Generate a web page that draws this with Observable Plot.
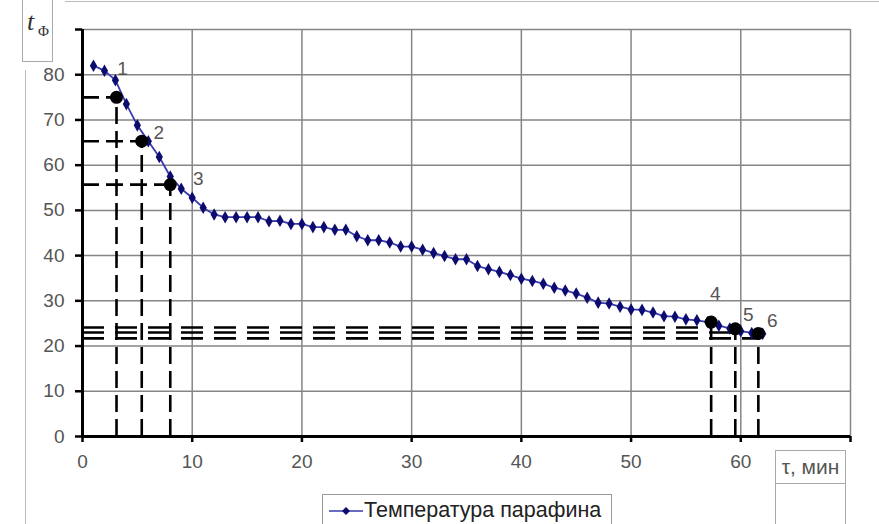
<!DOCTYPE html>
<html>
<head>
<meta charset="utf-8">
<script src="https://cdn.jsdelivr.net/npm/d3@7"></script>
<script src="https://cdn.jsdelivr.net/npm/@observablehq/plot@0.6"></script>
<style>
  html, body { margin: 0; padding: 0; background: #fff; }
  #wrap { position: relative; width: 879px; height: 524px; overflow: hidden; font-family: "Liberation Sans", Arial, sans-serif; }
  #chart { position: absolute; left: 0; top: 0; }
  .ov { position: absolute; box-sizing: border-box; }
</style>
</head>
<body>
<div id="wrap">
  <div id="chart"></div>
  <div class="ov" style="left:65px;top:1px;width:814px;height:0;border-top:1px solid #bbb;"></div>
  <div class="ov" style="left:25px;top:70px;width:0;height:460px;border-left:1px solid #bbb;"></div>
  <div class="ov" id="ylab" style="left:22px;top:-1px;width:31px;height:63px;border:1px solid #aaa;border-top:none;">
    <span style="position:absolute;left:4px;top:8px;font-family:'Liberation Serif',serif;font-style:italic;font-size:26px;color:#333;">t</span>
    <span style="position:absolute;left:15px;top:24px;font-family:'Liberation Serif',serif;font-size:15px;color:#333;">Φ</span>
  </div>
  <div class="ov" id="xlab" style="left:775px;top:450px;width:71px;height:34px;border:1px solid #aaa;font-size:21px;color:#555;line-height:32px;text-align:center;white-space:nowrap;">τ, мин</div>
  <div class="ov" style="left:775px;top:484px;width:71px;height:50px;border-left:1px solid #aaa;border-right:1px solid #aaa;"></div>
  <div class="ov" id="legend" style="left:322px;top:494px;width:290px;height:40px;border:1px solid #999;font-size:21.5px;color:#222;white-space:nowrap;">
    <svg width="40" height="20" style="position:absolute;left:4px;top:6px;">
      <line x1="2" y1="10" x2="36" y2="10" stroke="#3a3ab0" stroke-width="1.6"></line>
      <path d="M19,6 L23,10 L19,14 L15,10 Z" fill="#0c0c70"></path>
    </svg>
    <span style="position:absolute;left:41px;top:3px;">Температура парафина</span>
  </div>
</div>
<script>
// Time, min
const times = [1,2,3,4,5,6,7,8,9,10,11,12,13,14,15,16,17,18,19,20,21,22,23,24,25,26,27,28,29,30,31,32,33,34,35,36,37,38,39,40,41,42,43,44,45,46,47,48,49,50,51,52,53,54,55,56,57,58,59,60,61,62];
// Paraffin temperature
const temps = [82.0,80.9,78.8,73.5,68.8,65.3,61.8,57.5,54.8,52.8,50.6,49.1,48.5,48.5,48.5,48.5,47.6,47.7,47.0,47.0,46.3,46.3,45.7,45.7,44.3,43.4,43.4,42.9,42.0,42.0,41.3,40.6,39.9,39.2,39.2,37.7,37.0,36.4,35.7,34.9,34.4,33.8,32.9,32.3,31.6,30.7,29.6,29.4,28.7,28.1,28.0,27.4,26.6,26.5,25.9,25.7,25.3,24.5,23.9,23.3,22.9,22.7];

// Highlighted points
const hlLabels = ["1","2","3","4","5","6"];
const hlTimes = [3.1, 5.4, 8.0, 57.3, 59.5, 61.6];
const hlTemps = [75.0, 65.3, 55.7, 25.3, 23.8, 22.8];
// Horizontal guide levels (as drawn)
const guideTemps = [75.0, 65.3, 55.7, 24.1, 23.0, 21.7];

const xTicks = [0,10,20,30,40,50,60,70];
const yTicks = [0,10,20,30,40,50,60,70,80,90];
const xGrid = [10,20,30,40,50,60,70];
const yGrid = [10,20,30,40,50,60,70,80,90];

const series = times.map((t, i) => ({t, T: temps[i]}));
const hl = hlLabels.map((label, i) => ({label, t: hlTimes[i], T: hlTemps[i], g: guideTemps[i]}));

const labelOffsets = [[6,-28],[17,-8],[28,-6],[4,-28],[13,-14],[14,-12]];

const labelMarks = hl.map((d, i) => Plot.text([d], {
  x: "t", y: "T", text: "label",
  dx: labelOffsets[i][0], dy: labelOffsets[i][1],
  fontSize: 19, fill: "#555", fontFamily: "Liberation Sans"
}));

const chart = Plot.plot({
  width: 879,
  height: 490,
  marginLeft: 82,
  marginRight: 29,
  marginTop: 29,
  marginBottom: 54,
  x: {type: "linear", domain: [0, 70]},
  y: {type: "linear", domain: [0, 90]},
  style: {fontFamily: "Liberation Sans, Arial, sans-serif", fontSize: "19px", color: "#555", background: "transparent"},
  marks: [
    Plot.gridX(xGrid, {stroke: "#858585", strokeOpacity: 1, strokeWidth: 1.5}),
    Plot.gridY(yGrid, {stroke: "#858585", strokeOpacity: 1, strokeWidth: 1.5}),
    Plot.axisX(xTicks, {tickSize: 6, tickPadding: 12, stroke: "black", strokeWidth: 2.5, fill: "#555", fontSize: 19, label: null, tickFormat: d => d === 70 ? "" : d}),
    Plot.axisY(yTicks, {tickSize: 7, tickPadding: 11, stroke: "black", strokeWidth: 2.5, fill: "#555", fontSize: 19, label: null, tickFormat: d => d === 90 ? "" : d}),
    // dashed guides
    Plot.ruleX(hl, {x: "t", y1: 0, y2: "T", stroke: "black", strokeWidth: 2.6, strokeDasharray: "17,7"}),
    Plot.ruleY(hl.slice(0, 3), {y: "g", x1: 0, x2: "t", stroke: "black", strokeWidth: 2.6, strokeDasharray: "17,7"}),
    Plot.ruleY(hl.slice(3), {y: "g", x1: 0, x2: "t", stroke: "black", strokeWidth: 2.6, strokeDasharray: "22,11"}),
    // axes lines
    Plot.ruleX([0], {y1: 0, y2: 90, stroke: "black", strokeWidth: 3}),
    Plot.ruleY([0], {x1: 0, x2: 70, stroke: "black", strokeWidth: 3}),
    // series
    Plot.line(series, {x: "t", y: "T", stroke: "#3a3ab0", strokeWidth: 1.8}),
    Plot.dot(series, {x: "t", y: "T", symbol: "diamond", r: 3.8, fill: "#0c0c70", stroke: "none"}),
    Plot.dot(hl, {x: "t", y: "T", r: 6.5, fill: "black"}),
    ...labelMarks
  ]
});
document.getElementById("chart").appendChild(chart);
</script>
</body>
</html>
